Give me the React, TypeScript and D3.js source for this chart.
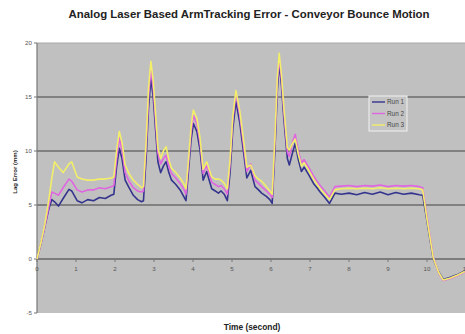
import React from "react";
import * as d3 from "d3";

// time (s) shared by all three runs
const time = [
  0, 0.1, 0.2, 0.3, 0.38, 0.45, 0.55, 0.67, 0.82, 0.89, 1.03, 1.15, 1.3, 1.45, 1.6, 1.75, 1.9, 1.97,
  2.04, 2.11, 2.18, 2.26, 2.36, 2.47, 2.58, 2.68, 2.73, 2.8, 2.86, 2.92, 2.98, 3.05, 3.1, 3.17, 3.24,
  3.31, 3.38, 3.45, 3.56, 3.67, 3.76, 3.82, 3.88, 3.95, 4.01, 4.1, 4.18, 4.26, 4.35, 4.48, 4.57, 4.65,
  4.72, 4.8, 4.88, 4.95, 5.02, 5.1, 5.2, 5.3, 5.38, 5.48, 5.59, 5.68, 5.76, 5.88, 5.97, 6.03, 6.1,
  6.16, 6.21, 6.27, 6.33, 6.42, 6.47, 6.55, 6.62, 6.7, 6.78, 6.85, 6.95, 7.09, 7.18, 7.26, 7.38, 7.5,
  7.64, 7.8, 8.0, 8.2, 8.4, 8.6, 8.8, 9.0, 9.2, 9.4, 9.6, 9.8, 9.89, 10.0, 10.16, 10.3, 10.42, 10.6,
  10.8, 10.97,
];

const run1 = [
  0, 1.4, 3.0, 4.6, 5.5, 5.3, 4.9, 5.6, 6.45, 6.3, 5.4, 5.2, 5.5, 5.4, 5.7, 5.6, 5.9, 6.0,
  8.5, 10.25, 9.3, 7.3, 6.6, 5.9, 5.5, 5.3, 5.4, 9.5, 14.0, 16.7, 15.0, 11.5, 9.0, 8.0, 8.6,
  9.0, 8.0, 7.3, 6.9, 6.4, 5.8, 5.4, 8.0, 11.0, 12.55, 11.8, 10.1, 7.3, 8.1, 6.5, 6.3, 6.1,
  6.3, 6.0, 5.4, 8.0, 12.0, 14.6, 12.6, 9.8, 7.5, 8.2, 6.7, 6.4, 6.1, 5.8, 5.5, 5.15, 10.0,
  15.5, 18.1, 16.0, 13.0, 9.3, 8.7, 9.8, 10.7, 9.2, 8.1, 8.5, 7.9, 7.0, 6.6, 6.2, 5.7, 5.15,
  6.1, 6.0, 6.1, 5.95, 6.15, 6.0, 6.2, 5.95, 6.15, 6.0, 6.1, 5.95, 5.9, 3.5, 0.0, -1.2, -1.9, -1.7,
  -1.4, -1.1,
];

const run2 = [
  0, 1.4, 3.0, 4.8, 6.2, 6.1, 5.9, 6.6, 7.4, 7.2, 6.4, 6.2, 6.4, 6.4, 6.6, 6.5, 6.7, 6.8,
  9.2, 11.2, 10.1, 8.0, 7.2, 6.6, 6.3, 6.2, 6.3, 10.5, 15.0, 17.5, 15.8, 12.3, 9.8, 8.8, 9.3,
  9.6, 8.6, 7.9, 7.5, 7.0, 6.5, 6.0, 8.6, 11.7, 13.3, 12.5, 10.8, 7.9, 8.7, 7.1, 6.9, 6.7,
  6.8, 6.5, 6.0, 8.8, 12.8, 15.3, 13.3, 10.4, 8.1, 8.8, 7.3, 7.0, 6.7, 6.3, 6.0, 5.7, 10.8,
  16.2, 18.6, 16.6, 13.6, 9.9, 9.5, 10.8, 11.55, 10.0, 8.9, 9.2, 8.6, 7.7, 7.2, 6.8, 6.3, 5.75,
  6.7, 6.75, 6.8, 6.7, 6.8, 6.75, 6.85, 6.7, 6.8, 6.75, 6.8, 6.7, 6.6, 3.9, 0.2, -1.3, -2.0, -1.8,
  -1.5, -1.2,
];

const run3 = [
  0, 1.5, 3.2, 5.4, 7.5, 9.0, 8.5, 8.0, 8.8, 9.0, 7.6, 7.4, 7.3, 7.3, 7.4, 7.4, 7.5, 7.6,
  10.0, 11.8, 10.8, 8.7, 7.9, 7.3, 6.9, 6.6, 6.7, 11.0, 15.8, 18.3, 16.5, 12.9, 10.3, 9.3, 10.0,
  10.4, 9.2, 8.4, 8.0, 7.5, 7.0, 6.5, 9.0, 12.2, 13.8, 13.0, 11.2, 8.3, 9.0, 7.6, 7.4, 7.4,
  7.3, 7.0, 6.5, 9.2, 13.2, 15.6, 13.7, 10.9, 8.5, 8.7, 7.7, 7.4, 7.2, 6.7, 6.3, 6.0, 11.2,
  16.7, 19.05, 17.0, 14.0, 10.3, 10.1, 10.7, 11.1, 9.7, 8.6, 8.9, 8.3, 7.4, 6.9, 6.5, 6.0, 5.5,
  6.4, 6.5, 6.55, 6.5, 6.55, 6.5, 6.6, 6.5, 6.55, 6.5, 6.55, 6.5, 6.4, 3.7, 0.1, -1.25, -1.95, -1.75,
  -1.45, -1.15,
];

const seriesNames = ["Run 1", "Run 2", "Run 3"];
const seriesColors = ["#34348e", "#e066e0", "#f2ee6a"];
const seriesValues = [run1, run2, run3];

const xTicks = [0, 1, 2, 3, 4, 5, 6, 7, 8, 9, 10, 11];
const yTicks = [-5, 0, 5, 10, 15, 20];
const gridValues = [5, 10, 15];

const W = 465;
const H = 334;
const font = "'Liberation Sans', Arial, sans-serif";

export default function App() {
  const x = d3.scaleLinear().domain([0, 11]).range([37, 466]);
  const y = d3.scaleLinear().domain([-5, 20]).range([313, 43]);

  const line = d3
    .line<number>()
    .x((_, i) => x(time[i]))
    .y(d => y(d));

  return (
    <svg
      width={W}
      height={H}
      style={{ position: "fixed", left: 0, top: 0, background: "#fff" }}
    >
      <text
        x={249}
        y={18}
        textAnchor="middle"
        fontFamily={font}
        fontWeight="bold"
        fontSize={11.4}
        fill="#222"
      >
        Analog Laser Based ArmTracking Error - Conveyor Bounce Motion
      </text>

      {/* plot area */}
      <rect x={x(0)} y={y(20)} width={x(11) - x(0)} height={y(-5) - y(20)} fill="#c0c0c0" />
      <line x1={x(0)} x2={x(11)} y1={y(20)} y2={y(20)} stroke="#a8a8a8" strokeWidth={1} />

      {gridValues.map(v => (
        <line
          key={v}
          x1={x(0)}
          x2={x(11)}
          y1={y(v)}
          y2={y(v)}
          stroke="#6c6c6c"
          strokeWidth={1.6}
        />
      ))}

      {/* y axis */}
      <line x1={x(0)} x2={x(0)} y1={y(20)} y2={y(-5)} stroke="#777" strokeWidth={1.2} />
      {yTicks.map(v => (
        <g key={v}>
          <line x1={x(0) - 3} x2={x(0)} y1={y(v)} y2={y(v)} stroke="#777" strokeWidth={1} />
          <text
            x={x(0) - 5}
            y={y(v) + 2.2}
            textAnchor="end"
            fontFamily={font}
            fontSize={6.2}
            fill="#555"
          >
            {v}
          </text>
        </g>
      ))}

      {/* x axis at zero */}
      <line x1={x(0)} x2={x(11)} y1={y(0)} y2={y(0)} stroke="#666" strokeWidth={1.6} />
      {xTicks.map(t => (
        <g key={t}>
          <line x1={x(t)} x2={x(t)} y1={y(0)} y2={y(0) + 3} stroke="#777" strokeWidth={1} />
          <text
            x={x(t)}
            y={y(0) + 12}
            textAnchor="middle"
            fontFamily={font}
            fontSize={6.2}
            fill="#555"
          >
            {t}
          </text>
        </g>
      ))}

      {seriesValues.map((vals, i) => (
        <path
          key={seriesNames[i]}
          d={line(vals) ?? ""}
          fill="none"
          stroke={seriesColors[i]}
          strokeWidth={1.6}
          strokeLinejoin="round"
        />
      ))}

      {/* legend */}
      <rect x={369} y={96} width={38} height={35} fill="#c4c4c4" stroke="#f2f2f2" strokeWidth={1} />
      {seriesNames.map((name, i) => (
        <g key={name}>
          <line
            x1={372}
            x2={385}
            y1={102 + i * 11.5}
            y2={102 + i * 11.5}
            stroke={seriesColors[i]}
            strokeWidth={1.4}
          />
          <text x={387} y={104.2 + i * 11.5} fontFamily={font} fontSize={6.4} fill="#444">
            {name}
          </text>
        </g>
      ))}

      <text
        x={252}
        y={330}
        textAnchor="middle"
        fontFamily={font}
        fontWeight="bold"
        fontSize={8.4}
        fill="#222"
      >
        Time (second)
      </text>
      <text
        transform={`translate(17, 172) rotate(-90)`}
        textAnchor="middle"
        fontFamily={font}
        fontWeight="bold"
        fontSize={6}
        fill="#222"
      >
        Lag Error (mm)
      </text>
    </svg>
  );
}
